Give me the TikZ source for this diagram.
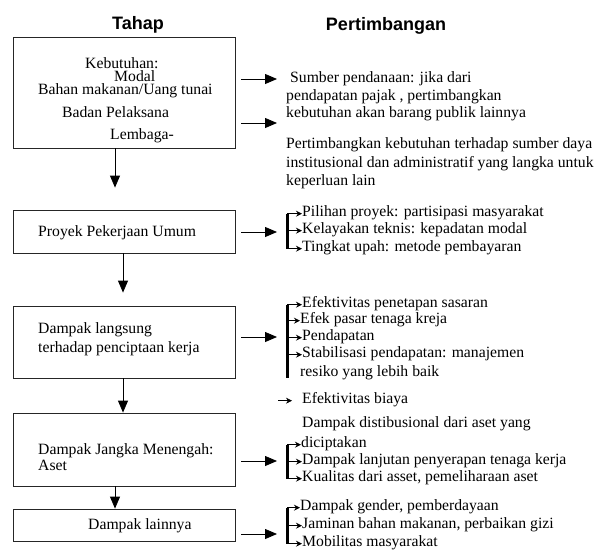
\documentclass[tikz,border=0pt]{standalone}
\usepackage{fontspec}
\setmainfont{Liberation Serif}
\newfontfamily\headfont{Liberation Sans}
\usetikzlibrary{arrows.meta}
\begin{document}
\begin{tikzpicture}[x=1pt,y=-1pt,
		txt/.style={font=\fontsize{15.7}{18.5}\selectfont,inner sep=0pt,anchor=base west},
		head/.style={font=\headfont\bfseries\fontsize{18}{20}\selectfont,inner sep=0pt,anchor=base},
		box/.style={draw=black!85,line width=0.8pt,minimum width=222pt,inner sep=0pt},
		big/.style={-{Triangle[length=12pt,width=10pt]},line width=0.8pt},
		small/.style={-{Stealth[length=6pt,width=6pt]},line width=0.9pt},
		spine/.style={line width=3pt}]
		\useasboundingbox (0,0) rectangle (600,552);
		\node[head] (tahap) at (138,29) {Tahap};
		\node[head] (pert) at (386,30) {Pertimbangan};
		
		\node[box,minimum height=111pt] (b1) at (124,92.5) {};
		\node[box,minimum height=43pt] (b2) at (124,231.5) {};
		\node[box,minimum height=72pt] (b3) at (124,342) {};
		\node[box,minimum height=73pt] (b4) at (124,449.5) {};
		\node[box,minimum height=32pt] (b5) at (124,525) {};
		
		\node[txt] (kebutuhan) at (85,68) {Kebutuhan:};
		\node[txt] (modal) at (114,81) {Modal};
		\node[txt] (bahan) at (38,94) {Bahan makanan/Uang tunai};
		\node[txt] (badan) at (62,117) {Badan Pelaksana};
		\node[txt] (lembaga) at (110,139) {Lembaga-};
		\node[txt] (proyek) at (38,236) {Proyek Pekerjaan Umum};
		\node[txt] (langsung) at (38,333) {Dampak langsung};
		\node[txt] (langsungb) at (38,352) {terhadap penciptaan kerja};
		\node[txt] (menengah) at (38,454) {Dampak Jangka Menengah:};
		\node[txt] (aset) at (38,470) {Aset};
		\node[txt] (lainnya) at (88,529) {Dampak lainnya};
		
		\draw[big] ([xshift=-9pt]b1.south) -- ([xshift=-9pt,yshift=22pt]b2.north);
		\draw[big] ([xshift=-1pt]b2.south) -- ([xshift=-1pt,yshift=13pt]b3.north);
		\draw[big] ([xshift=-1pt]b3.south) -- ([xshift=-1pt]b4.north);
		\draw[big] ([xshift=-9pt]b4.south) -- ([xshift=-9pt]b5.north);
		
		\node[txt] (r1) at (290,82) {Sumber pendanaan: jika dari};
		\node[txt] (r2) at (286,100) {pendapatan pajak , pertimbangkan};
		\node[txt] (r3) at (286,117) {kebutuhan akan barang publik lainnya};
		\node[txt] (r4) at (286,148) {Pertimbangkan kebutuhan terhadap sumber daya};
		\node[txt] (r5) at (286,167) {institusional dan administratif yang langka untuk};
		\node[txt] (r6) at (286,185) {keperluan lain};
		
		\node[txt] (i21) at (302,216) {Pilihan proyek: partisipasi masyarakat};
		\node[txt] (i22) at (302,233) {Kelayakan teknis: kepadatan modal};
		\node[txt] (i23) at (302,251) {Tingkat upah: metode pembayaran};
		\node[txt] (i31) at (302,307) {Efektivitas penetapan sasaran};
		\node[txt] (i32) at (300,323) {Efek pasar tenaga kreja};
		\node[txt] (i33) at (302,340) {Pendapatan};
		\node[txt] (i34) at (302,357) {Stabilisasi pendapatan: manajemen};
		\node[txt] (i35) at (300,376) {resiko yang lebih baik};
		\node[txt] (i36) at (302,403) {Efektivitas biaya};
		\node[txt] (i41) at (302,427) {Dampak distibusional dari aset yang};
		\node[txt] (i42) at (301,447) {diciptakan};
		\node[txt] (i43) at (302,464) {Dampak lanjutan penyerapan tenaga kerja};
		\node[txt] (i44) at (302,481) {Kualitas dari asset, pemeliharaan aset};
		\node[txt] (i51) at (300,510) {Dampak gender, pemberdayaan};
		\node[txt] (i52) at (302,528) {Jaminan bahan makanan, perbaikan gizi};
		\node[txt] (i53) at (302,546) {Mobilitas masyarakat};
		
		\coordinate (a1) at (277,79);
		\coordinate (a2) at (277,123);
		\coordinate (sp) at (287,0);
		\coordinate (s3b) at (287,378);
		\coordinate (e0) at (278,0);
		
		\draw[big] (b1.east |- a1) ++(6,0) -- (a1);
		\draw[big] (b1.east |- a2) ++(6,0) -- (a2);
		\draw[big] (b2.east |- 0,232) ++(6,0) -- (277,232);
		\draw[big] (b3.east |- 0,337) ++(6,0) -- (277,337);
		\draw[big] (b4.east |- 0,461) ++(6,0) -- (277,461);
		\draw[big] (b5.east |- 0,534) ++(6,0) -- (277,534);
		
		\draw[spine] (sp |- i21.mid west) -- (sp |- i23.mid west);
		\draw[spine] (sp |- i31.mid west) -- (s3b);
		\draw[spine] (sp |- i42.mid west) -- (sp |- i44.mid west);
		\draw[spine] (sp |- i51.mid west) -- (sp |- i53.mid west);
		\foreach \i in {i21,i22,i23,i31,i32,i33,i34,i42,i43,i44,i51,i52,i53}
			\draw[small] (sp |- \i.mid west) -- (\i.mid west);
		\draw[small,line width=0.6pt] (e0 |- i36.mid west) -- ++(14,0);
		
		\end{tikzpicture}
\end{document}
